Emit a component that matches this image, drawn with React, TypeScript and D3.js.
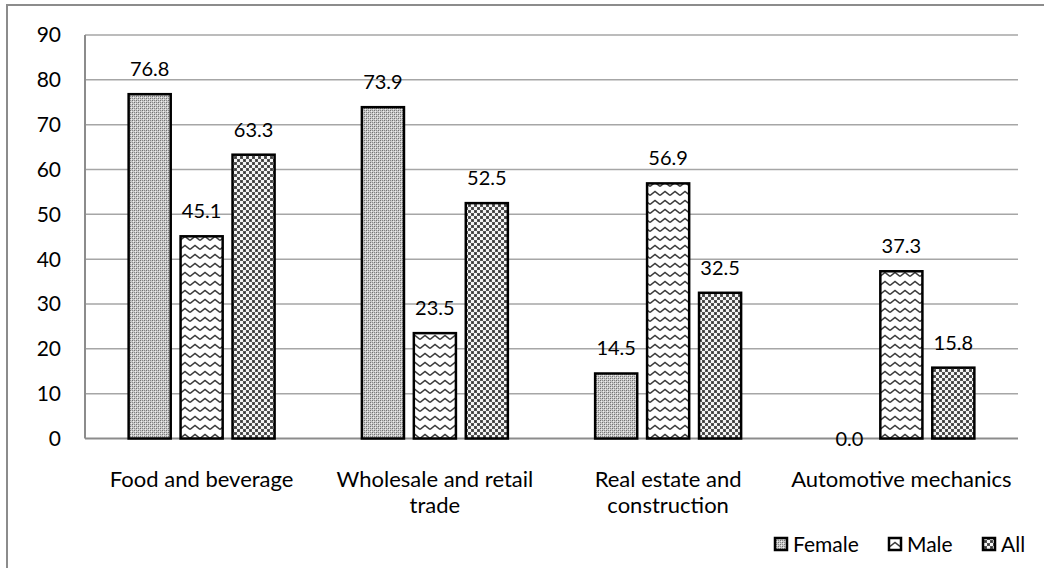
import React from "react";
import * as d3 from "d3";

const categories = [
  ["Food and beverage"],
  ["Wholesale and retail", "trade"],
  ["Real estate and", "construction"],
  ["Automotive mechanics"],
];
const seriesNames = ["Female", "Male", "All"];
const female = [76.8, 73.9, 14.5, 0.0];
const male = [45.1, 23.5, 56.9, 37.3];
const all = [63.3, 52.5, 32.5, 15.8];
const yTicks = [0, 10, 20, 30, 40, 50, 60, 70, 80, 90];

const W = 1044;
const H = 568;
const plot = { left: 85, right: 1018, top: 35, bottom: 438.5 };
const FONT = "Lato, 'Open Sans', sans-serif";

export default function App() {
  const values = [female, male, all];
  const x0 = d3
    .scaleBand<number>()
    .domain(d3.range(categories.length))
    .range([plot.left, plot.right])
    .padding(0);
  const x1 = d3
    .scaleBand<string>()
    .domain(seriesNames)
    .range([0, x0.bandwidth()])
    .paddingInner(0.19)
    .paddingOuter(0.84);
  const y = d3.scaleLinear().domain([0, 90]).range([plot.bottom, plot.top]);
  const fills = ["url(#pFemale)", "url(#pMale)", "url(#pAll)"];

  const legendItems = [
    { name: "Female", x: 774 },
    { name: "Male", x: 888 },
    { name: "All", x: 982 },
  ];

  return (
    <svg
      width={W}
      height={H}
      style={{ position: "absolute", left: 0, top: 0, background: "#fff" }}
      fontFamily={FONT}
    >
      <defs>
        <pattern id="pFemale" width="4" height="4" patternUnits="userSpaceOnUse">
          <rect width="4" height="4" fill="#c8c8c8" />
          <rect x="0" y="0" width="1" height="1" fill="#707070" />
          <rect x="2" y="2" width="1" height="1" fill="#707070" />
          <rect x="2" y="0" width="1" height="1" fill="#8a8a8a" />
          <rect x="0" y="2" width="1" height="1" fill="#8a8a8a" />
          <rect x="1" y="1" width="1" height="1" fill="#eeeeee" />
          <rect x="3" y="3" width="1" height="1" fill="#eeeeee" />
        </pattern>
        <pattern id="pMale" width="10" height="9" patternUnits="userSpaceOnUse">
          <rect width="10" height="9" fill="#fff" />
          <path d="M0,6.5 L5,2.5 L10,6.5" fill="none" stroke="#3a3a3a" strokeWidth="1.6" />
        </pattern>
        <pattern id="pAll" width="6" height="6" patternUnits="userSpaceOnUse">
          <rect width="6" height="6" fill="#f4f4f4" />
          <rect x="0" y="0" width="3" height="3" fill="#555" />
          <rect x="3" y="3" width="3" height="3" fill="#555" />
          <rect x="1" y="1" width="1" height="1" fill="#333" />
          <rect x="4" y="4" width="1" height="1" fill="#333" />
        </pattern>
      </defs>

      {/* chart frame */}
      <rect x={7} y={5} width={1100} height={600} fill="none" stroke="#8c8c8c" strokeWidth={2} />

      {/* gridlines */}
      {yTicks.slice(1).map((t) => (
        <line
          key={t}
          x1={plot.left}
          x2={plot.right}
          y1={y(t)}
          y2={y(t)}
          stroke="#a6a6a6"
          strokeWidth={1.5}
        />
      ))}

      {/* axes */}
      <line x1={plot.left} x2={plot.left} y1={plot.top} y2={plot.bottom} stroke="#8c8c8c" strokeWidth={2} />
      <line x1={plot.left} x2={plot.right} y1={plot.bottom} y2={plot.bottom} stroke="#8c8c8c" strokeWidth={2} />

      {yTicks.map((t) => (
        <text
          key={t}
          x={61}
          y={y(t)}
          dy="0.35em"
          textAnchor="end"
          fontSize={21}
          fill="#000"
        >
          {t}
        </text>
      ))}

      {/* bars */}
      {categories.map((_, ci) =>
        seriesNames.map((s, si) => {
          const v = values[si][ci];
          const bx = (x0(ci) as number) + (x1(s) as number);
          const bw = x1.bandwidth();
          return (
            <g key={`${ci}-${s}`}>
              {v > 0 && (
                <rect
                  x={bx}
                  y={y(v)}
                  width={bw}
                  height={y(0) - y(v)}
                  fill={fills[si]}
                  stroke="#000"
                  strokeWidth={2.5}
                />
              )}
              <text
                x={bx + bw / 2}
                y={v > 0 ? y(v) - 18 : y(v)}
                dy={v > 0 ? 0 : "0.35em"}
                textAnchor="middle"
                fontSize={20}
                fill="#000"
              >
                {v.toFixed(1)}
              </text>
            </g>
          );
        })
      )}

      {/* category labels */}
      {categories.map((lines, ci) => (
        <text
          key={ci}
          x={(x0(ci) as number) + x0.bandwidth() / 2}
          y={487}
          textAnchor="middle"
          fontSize={22}
          fill="#000"
        >
          {lines.map((l, li) => (
            <tspan key={li} x={(x0(ci) as number) + x0.bandwidth() / 2} dy={li === 0 ? 0 : 26}>
              {l}
            </tspan>
          ))}
        </text>
      ))}

      {/* legend */}
      {legendItems.map((it, i) => (
        <g key={it.name}>
          <rect x={it.x + 1} y={538} width={12} height={12} fill={fills[i]} stroke="#000" strokeWidth={2.5} />
          <text x={it.x + 19} y={552} fontSize={21} fill="#000">
            {it.name}
          </text>
        </g>
      ))}
    </svg>
  );
}
